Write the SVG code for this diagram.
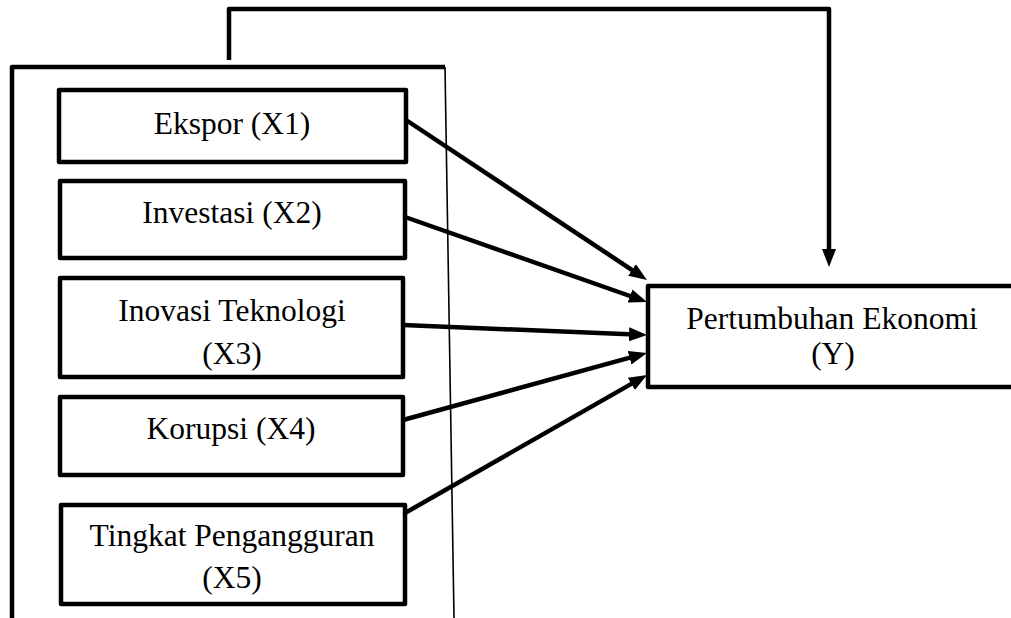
<svg xmlns="http://www.w3.org/2000/svg" width="1011" height="618" viewBox="0 0 1011 618">
<style>
  .box { fill: #fff; stroke: #000; stroke-width: 4.5; stroke-linejoin: round; }
  .lbl { font-family: "Liberation Serif", "Times New Roman", serif; font-size: 31.5px; fill: #000; text-anchor: middle; }
  .conn { fill: none; stroke: #000; stroke-width: 4.5; }
</style>
<defs>
  <marker id="arr" markerUnits="userSpaceOnUse" viewBox="0 0 18 14" markerWidth="18" markerHeight="14" refX="6" refY="7" orient="auto">
    <path d="M0,0 L18,7 L0,14 z" fill="#000"/>
  </marker>
</defs>
<rect width="1011" height="618" fill="#fff"/>

<g id="frame">
  <path d="M12,618 V67 H445" fill="none" stroke="#000" stroke-width="4.5" stroke-linejoin="round"/>
  <line x1="445" y1="67" x2="454" y2="618" stroke="#000" stroke-width="1.6"/>
</g>

<g id="connectors">
  <path class="conn" d="M229,60 V9 H829 V255" stroke-linejoin="round" marker-end="url(#arr)"/>
  <line class="conn" x1="403" y1="118" x2="637" y2="273.3" marker-end="url(#arr)"/>
  <line class="conn" x1="405" y1="217" x2="635.7" y2="298" marker-end="url(#arr)"/>
  <line class="conn" x1="403" y1="325" x2="635" y2="334.5" marker-end="url(#arr)"/>
  <line class="conn" x1="403" y1="420" x2="635.4" y2="356.2" marker-end="url(#arr)"/>
  <line class="conn" x1="405" y1="513" x2="636.6" y2="380.9" marker-end="url(#arr)"/>
</g>

<g id="x1">
  <rect class="box" x="59" y="90" width="347" height="72"/>
  <text class="lbl" x="232" y="134">Ekspor (X1)</text>
</g>
<g id="x2">
  <rect class="box" x="60" y="181" width="345" height="77"/>
  <text class="lbl" x="232" y="223">Investasi (X2)</text>
</g>
<g id="x3">
  <rect class="box" x="60" y="278" width="343" height="99"/>
  <text class="lbl" x="232" y="321">Inovasi Teknologi</text>
  <text class="lbl" x="232" y="364">(X3)</text>
</g>
<g id="x4">
  <rect class="box" x="60" y="397" width="343" height="78"/>
  <text class="lbl" x="231" y="439">Korupsi (X4)</text>
</g>
<g id="x5">
  <rect class="box" x="61" y="505" width="344" height="99"/>
  <text class="lbl" x="232" y="546">Tingkat Pengangguran</text>
  <text class="lbl" x="232" y="588">(X5)</text>
</g>
<g id="y">
  <rect class="box" x="648" y="286" width="380" height="101"/>
  <text class="lbl" x="832" y="329">Pertumbuhan Ekonomi</text>
  <text class="lbl" x="833" y="364">(Y)</text>
</g>
</svg>
